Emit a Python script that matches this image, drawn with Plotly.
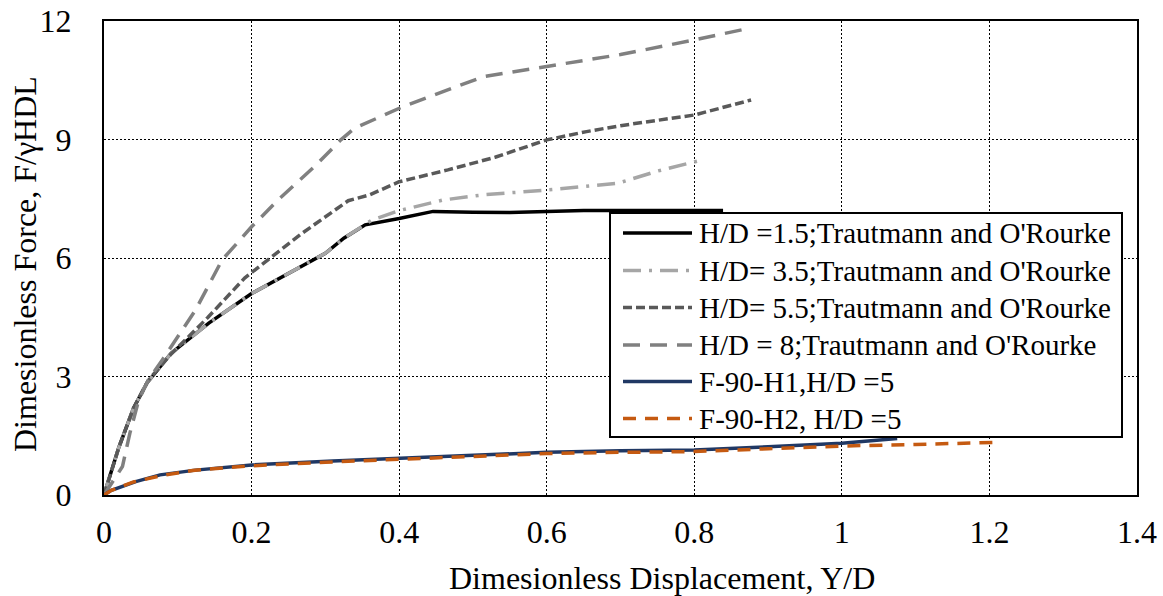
import plotly.graph_objects as go

# Dimensionless displacement (Y/D) and force (F/gammaHDL) for each test series
x_hd15 = [0, 0.02, 0.04, 0.058, 0.091, 0.142, 0.2, 0.25, 0.3, 0.325, 0.354, 0.40, 0.446, 0.50, 0.55, 0.65, 0.75, 0.839]
y_hd15 = [0, 1.2, 2.2, 2.83, 3.59, 4.35, 5.1, 5.6, 6.12, 6.5, 6.84, 7.0, 7.18, 7.16, 7.15, 7.2, 7.2, 7.2]

x_hd35 = [0, 0.02, 0.04, 0.058, 0.091, 0.142, 0.2, 0.25, 0.3, 0.325, 0.363, 0.40, 0.46, 0.514, 0.60, 0.696, 0.75, 0.81]
y_hd35 = [0, 1.2, 2.2, 2.83, 3.59, 4.35, 5.1, 5.6, 6.12, 6.5, 6.96, 7.2, 7.47, 7.6, 7.72, 7.89, 8.2, 8.48]

x_hd55 = [0, 0.02, 0.04, 0.06, 0.09, 0.141, 0.191, 0.227, 0.268, 0.331, 0.36, 0.40, 0.466, 0.53, 0.60, 0.654, 0.70, 0.80, 0.877]
y_hd55 = [0, 1.2, 2.2, 2.9, 3.55, 4.5, 5.5, 6.03, 6.62, 7.45, 7.6, 7.93, 8.23, 8.55, 8.99, 9.2, 9.35, 9.62, 10.0]

x_hd8 = [0, 0.025, 0.035, 0.047, 0.06, 0.079, 0.124, 0.16, 0.2, 0.236, 0.285, 0.321, 0.339, 0.405, 0.514, 0.60, 0.70, 0.80, 0.87]
y_hd8 = [0, 0.72, 1.56, 2.4, 2.91, 3.42, 4.68, 5.95, 6.79, 7.47, 8.31, 8.99, 9.28, 9.83, 10.59, 10.84, 11.15, 11.52, 11.8]

x_h1 = [0, 0.01, 0.043, 0.076, 0.124, 0.2, 0.31, 0.40, 0.50, 0.60, 0.70, 0.80, 0.90, 1.0, 1.075]
y_h1 = [0, 0.12, 0.34, 0.51, 0.63, 0.76, 0.86, 0.93, 1.01, 1.08, 1.12, 1.14, 1.22, 1.31, 1.43]

x_h2 = [0, 0.01, 0.04, 0.08, 0.12, 0.2, 0.3, 0.4, 0.5, 0.6, 0.7, 0.8, 0.9, 1.0, 1.1, 1.205]
y_h2 = [0, 0.12, 0.33, 0.5, 0.62, 0.74, 0.83, 0.91, 0.99, 1.05, 1.08, 1.1, 1.17, 1.24, 1.28, 1.33]

names = [
    "H/D =1.5;Trautmann and O'Rourke",
    "H/D= 3.5;Trautmann and O'Rourke",
    "H/D= 5.5;Trautmann and O'Rourke",
    "H/D = 8;Trautmann and O'Rourke",
    "F-90-H1,H/D =5",
    "F-90-H2, H/D =5",
]

x_ticks = [0, 0.2, 0.4, 0.6, 0.8, 1.0, 1.2, 1.4]
x_ticktext = ["0", "0.2", "0.4", "0.6", "0.8", "1", "1.2", "1.4"]
y_ticks = [0, 3, 6, 9, 12]

x_title = "Dimesionless Displacement, Y/D"
y_title = "Dimesionless Force, F/\u03b3HDL"

series = [
    (x_hd15, y_hd15, dict(color="#000000", width=3.5, dash="solid")),
    (x_hd35, y_hd35, dict(color="#A6A6A6", width=3.5, dash="18px,8px,3px,8px")),
    (x_hd55, y_hd55, dict(color="#595959", width=3.5, dash="9px,4px")),
    (x_hd8, y_hd8, dict(color="#808080", width=3.5, dash="17px,10px")),
    (x_h1, y_h1, dict(color="#203864", width=3.5, dash="solid")),
    (x_h2, y_h2, dict(color="#C55A11", width=3.5, dash="13px,9px")),
]

W, H = 1163, 596
L, R, T, B = 104, 26, 21, 101
plot_w, plot_h = W - L - R, H - T - B


def px_x(px):
    """Horizontal pixel -> paper fraction."""
    return (px - L) / plot_w


def px_y(py):
    """Vertical pixel (from top) -> paper fraction."""
    return (H - B - py) / plot_h


font_family = "Liberation Serif"
key_size, title_size, tick_size = 29, 32, 32

fig = go.Figure()
for (xs, ys, line), name in zip(series, names):
    fig.add_trace(go.Scatter(x=xs, y=ys, mode="lines", name=name, line=line,
                             showlegend=False))

# Boxed key drawn over the plot area
shapes = [dict(type="rect", xref="paper", yref="paper", layer="above",
               x0=px_x(610), x1=px_x(1122), y0=px_y(437), y1=px_y(213),
               fillcolor="white", line=dict(color="black", width=2))]
annotations = []
row_y = [233, 270.5, 307.5, 345, 381.5, 418.5]
for (xs, ys, line), name, ry in zip(series, names, row_y):
    shapes.append(dict(type="line", xref="paper", yref="paper", layer="above",
                       x0=px_x(623), x1=px_x(692), y0=px_y(ry), y1=px_y(ry),
                       line=line))
    annotations.append(dict(text=name, xref="paper", yref="paper",
                            x=px_x(697), y=px_y(ry), xanchor="left", yanchor="middle",
                            showarrow=False, font=dict(family=font_family, size=key_size, color="black")))

# Axis titles
annotations.append(dict(text=x_title, xref="paper", yref="paper",
                        x=px_x(662), y=px_y(578), xanchor="center", yanchor="middle",
                        showarrow=False, font=dict(family=font_family, size=title_size, color="black")))
annotations.append(dict(text=y_title, xref="paper", yref="paper",
                        x=px_x(25), y=px_y(264), xanchor="center", yanchor="middle", textangle=-90,
                        showarrow=False, font=dict(family=font_family, size=title_size, color="black")))

fig.update_layout(
    width=W,
    height=H,
    margin=dict(l=L, r=R, t=T, b=B),
    paper_bgcolor="white",
    plot_bgcolor="white",
    font=dict(family=font_family, size=tick_size, color="black"),
    showlegend=False,
    shapes=shapes,
    annotations=annotations,
)

fig.update_xaxes(
    range=[0, 1.4], tickvals=x_ticks, ticktext=x_ticktext,
    showgrid=True, gridcolor="#000000", gridwidth=1, griddash="2px,2px",
    showline=True, linecolor="black", linewidth=2, mirror=True,
    zeroline=False, ticks="", ticklabelstandoff=8, automargin=False,
    tickfont=dict(family=font_family, size=tick_size),
)
fig.update_yaxes(
    range=[0, 12], tickvals=y_ticks,
    showgrid=True, gridcolor="#000000", gridwidth=1, griddash="2px,2px",
    showline=True, linecolor="black", linewidth=2, mirror=True,
    zeroline=False, ticks="", ticklabelstandoff=24, automargin=False,
    tickfont=dict(family=font_family, size=tick_size),
)

fig.write_html("out.html")
